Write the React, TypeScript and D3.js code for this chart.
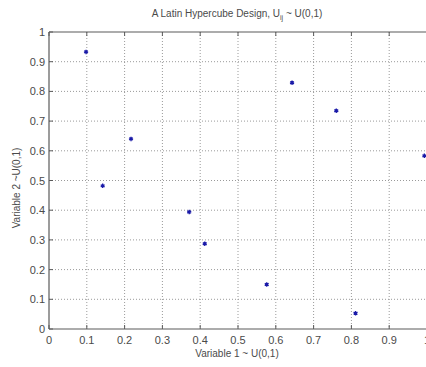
import React from "react";
import * as d3 from "d3";

const xValues = [0.098, 0.142, 0.217, 0.371, 0.412, 0.576, 0.643, 0.760, 0.811, 0.993];
const yValues = [0.933, 0.482, 0.640, 0.394, 0.287, 0.150, 0.829, 0.735, 0.053, 0.583];
const xTicks = [0, 0.1, 0.2, 0.3, 0.4, 0.5, 0.6, 0.7, 0.8, 0.9, 1];
const yTicks = [0, 0.1, 0.2, 0.3, 0.4, 0.5, 0.6, 0.7, 0.8, 0.9, 1];
const fmt = (v: number) => (v === 0 || v === 1 ? String(v) : String(v));

export default function App() {
  const W = 426, H = 367;
  const left = 49, right = 427, top = 32, bottom = 329;
  const x = d3.scaleLinear().domain([0, 1]).range([left, right]);
  const y = d3.scaleLinear().domain([0, 1]).range([bottom, top]);
  const star = d3.symbol().type(d3.symbolAsterisk).size(14)();
  const font = "'Liberation Sans', Arial, sans-serif";
  const textColor = "#4a4a4a";
  const gridColor = "#9a9a9a";
  const axisColor = "#5a5a5a";
  return (
    <svg width={W} height={H} style={{ position: "absolute", left: 0, top: 0, background: "#fff" }}
      fontFamily={font}>
      <rect x={0} y={0} width={W} height={H} fill="#fff" />
      {/* grid */}
      {xTicks.filter(t => t > 0 && t < 1).map(t => (
        <line key={"gx" + t} x1={x(t)} x2={x(t)} y1={top} y2={bottom} stroke={gridColor}
          strokeWidth={1} strokeDasharray="1,2" />
      ))}
      {yTicks.filter(t => t > 0 && t < 1).map(t => (
        <line key={"gy" + t} x1={left} x2={right} y1={y(t)} y2={y(t)} stroke={gridColor}
          strokeWidth={1} strokeDasharray="1,2" />
      ))}
      {/* axes box */}
      <line x1={left} x2={right} y1={top} y2={top} stroke={axisColor} strokeWidth={1.2} />
      <line x1={left} x2={right} y1={bottom} y2={bottom} stroke={axisColor} strokeWidth={1.2} />
      <line x1={left} x2={left} y1={top} y2={bottom} stroke={axisColor} strokeWidth={1.2} />
      <line x1={right} x2={right} y1={top} y2={bottom} stroke={axisColor} strokeWidth={1.2} />
      {/* ticks */}
      {xTicks.map(t => (
        <g key={"tx" + t}>
          <line x1={x(t)} x2={x(t)} y1={bottom} y2={bottom - 4} stroke={axisColor} />
          <line x1={x(t)} x2={x(t)} y1={top} y2={top + 4} stroke={axisColor} />
          <text x={x(t)} y={bottom + 15} fontSize={11} fill={textColor} textAnchor="middle">{fmt(t)}</text>
        </g>
      ))}
      {yTicks.map(t => (
        <g key={"ty" + t}>
          <line x1={left} x2={left + 4} y1={y(t)} y2={y(t)} stroke={axisColor} />
          <text x={left - 4} y={y(t) + 4} fontSize={11} fill={textColor} textAnchor="end">{fmt(t)}</text>
        </g>
      ))}
      {/* points */}
      {xValues.map((v, i) => (
        <g key={"p" + i} transform={`translate(${x(v)},${y(yValues[i])})`}>
          <path d={star || ""} fill="none" stroke="#1a1aa8" strokeWidth={1.3} />
          <circle r={1.3} fill="#1a1aa8" />
        </g>
      ))}
      {/* title */}
      <text x={237} y={17} fontSize={10} fill={textColor} textAnchor="middle">
        A Latin Hypercube Design, U<tspan fontSize={7} dy={3}>ij</tspan><tspan dy={-3}> ~ U(0,1)</tspan>
      </text>
      <text x={237} y={357} fontSize={10} fill={textColor} textAnchor="middle">Variable 1 ~ U(0,1)</text>
      <text transform={`translate(20,${188}) rotate(-90)`} fontSize={10} fill={textColor} textAnchor="middle">
        Variable 2 ~U(0,1)
      </text>
    </svg>
  );
}
